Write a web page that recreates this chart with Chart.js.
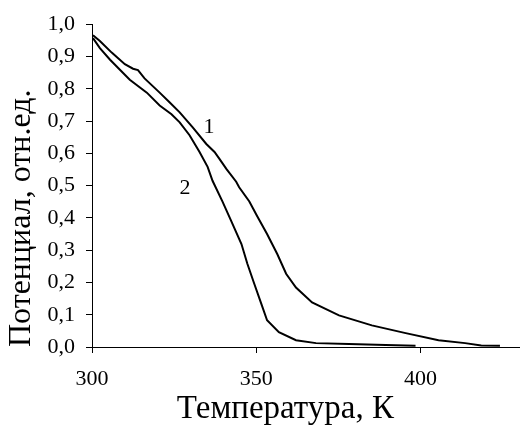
<!DOCTYPE html>
<html><head><meta charset="utf-8">
<script src="https://cdn.jsdelivr.net/npm/chart.js@4/dist/chart.umd.min.js"></script>
<style>html,body{margin:0;padding:0;background:#fff}#wrap{width:520px;height:425px}</style>
</head><body><div id="wrap"><canvas id="c" width="520" height="425"></canvas></div>
<script>
const temps1 = [300.3,302.4,306,310,312.5,314,316,320.6,323.6,326.7,330.6,334.8,337.3,338.8,340.9,343.9,344.8,347.9,350.3,353.3,356.4,359.1,362.1,367,375.2,385.2,395.5,405.5,413.6,418.5,424.2];
const pot1   = [0.966,0.948,0.912,0.876,0.862,0.858,0.832,0.788,0.758,0.727,0.681,0.629,0.604,0.583,0.552,0.512,0.495,0.451,0.405,0.35,0.288,0.227,0.184,0.138,0.098,0.067,0.043,0.021,0.012,0.005,0.004];
const temps2 = [300.3,302.4,305.5,308.5,311.5,316.7,320.6,324.2,326.7,329.7,332.7,335.2,336.7,339.7,342.4,345.5,347.3,349.4,351.5,353.3,356.9,362.1,368.2,378.2,389.4,398.5];
const pot2   = [0.957,0.926,0.89,0.859,0.828,0.788,0.748,0.721,0.696,0.656,0.605,0.558,0.515,0.451,0.39,0.319,0.258,0.196,0.135,0.083,0.046,0.021,0.012,0.009,0.006,0.004];
const curveLabels = ['1','2'];
const labelX = [335.6, 328.3];
const labelY = [0.681, 0.491];
const xTicks = [300,350,400];
const xTitle = 'Температура, К';
const yTitle = 'Потенциал, отн.ед.';

const font = "'Liberation Serif','Times New Roman',serif";
const toPts = (xs, ys) => xs.map((x,i)=>({x, y: ys[i]}));

const textPlugin = {
  id: 'texts',
  afterDraw(chart) {
    const ctx = chart.ctx, xs = chart.scales.x, ys = chart.scales.y;
    ctx.save();
    ctx.fillStyle = '#000';
    ctx.font = '22px ' + font;
    ctx.textAlign = 'center'; ctx.textBaseline = 'middle';
    curveLabels.forEach((t,i)=>ctx.fillText(t, xs.getPixelForValue(labelX[i]), ys.getPixelForValue(labelY[i])));
    // x-axis title, placed a little left of the axis centre as in the original figure
    ctx.font = '33px ' + font;
    ctx.textBaseline = 'alphabetic';
    ctx.fillText(xTitle, xs.left + (xs.right - xs.left) * 0.453, xs.bottom - 7);
    ctx.restore();
  }
};

new Chart(document.getElementById('c'), {
  type: 'line',
  data: { datasets: [
    { data: toPts(temps1,pot1), borderColor:'#000', borderWidth:2, pointRadius:0, tension:0, fill:false },
    { data: toPts(temps2,pot2), borderColor:'#000', borderWidth:2, pointRadius:0, tension:0, fill:false }
  ]},
  options: {
    responsive:false, animation:false, devicePixelRatio:1,
    layout:{ padding:{ top:21, right:1, left:0, bottom:0 } },
    plugins:{ legend:{display:false}, tooltip:{enabled:false} },
    scales:{
      x:{ type:'linear', min:300, max:430,
        afterBuildTicks: s => { s.ticks = xTicks.map(v=>({value:v})); },
        afterFit: s => { s.height = 78; },
        grid:{ drawOnChartArea:false, drawTicks:true, tickLength:6, color:'#000' },
        border:{ display:true, color:'#000', width:1 },
        ticks:{ color:'#000', font:{ family:font, size:22 }, padding:13, maxRotation:0 },
        title:{ display:false }
      },
      y:{ min:0, max:1,
        afterFit: s => { s.width = 92; },
        grid:{ drawOnChartArea:false, drawTicks:true, tickLength:6, color:'#000' },
        border:{ display:true, color:'#000', width:1 },
        ticks:{ stepSize:0.1, color:'#000', font:{ family:font, size:22 }, padding:11,
          callback: v => v.toFixed(1).replace('.', ',') },
        title:{ display:true, align:'start', text:yTitle, color:'#000', font:{ family:font, size:32, lineHeight:1.1 }, padding:{top:4,bottom:0} }
      }
    }
  },
  plugins:[textPlugin]
});
</script></body></html>
